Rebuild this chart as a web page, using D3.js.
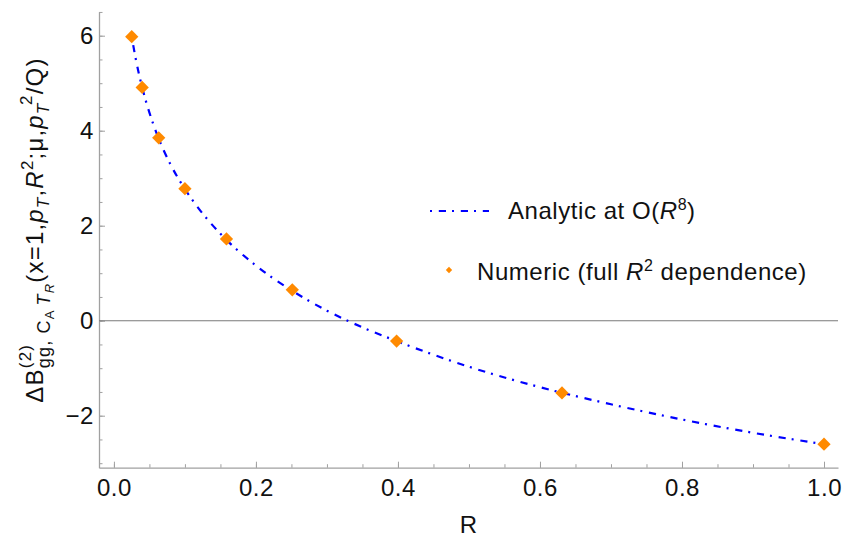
<!DOCTYPE html>
<html>
<head>
<meta charset="utf-8">
<script src="https://cdn.jsdelivr.net/npm/d3@7"></script>
<style>
  body { margin: 0; background: #fff; }
  svg { font-family: "Liberation Sans", Arial, sans-serif; }
</style>
</head>
<body>
<svg id="chart" width="848" height="541"></svg>
<script>
// numeric points (full R^2 dependence), R = 10^(-k/5)
const numericR = [0.0251, 0.0398, 0.0631, 0.1, 0.1585, 0.2512, 0.3981, 0.631, 1.0];
const numericB = [5.98, 4.91, 3.85, 2.78, 1.72, 0.65, -0.43, -1.52, -2.6];

// analytic curve at O(R^8)
const analyticR = [0.025, 0.03, 0.035, 0.04, 0.05, 0.06, 0.07, 0.08, 0.1, 0.12, 0.15,
  0.2, 0.25, 0.3, 0.35, 0.4, 0.5, 0.6, 0.7, 0.8, 0.9, 1.0];
const analyticB = [5.99, 5.57, 5.21, 4.9, 4.38, 3.95, 3.59, 3.28, 2.77, 2.35, 1.83,
  1.16, 0.64, 0.21, -0.14, -0.44, -0.97, -1.4, -1.76, -2.08, -2.36, -2.6];

const xMajor = [0, 0.2, 0.4, 0.6, 0.8, 1.0];
const xMinor = d3.range(0, 1.0001, 0.05);
const yMajor = [-2, 0, 2, 4, 6];
const yMinor = d3.range(-3, 6.5001, 0.5);

const svg = d3.select("#chart");

const x = d3.scaleLinear().domain([-0.021, 1.0197]).range([99, 838]);
const y = d3.scaleLinear().domain([-3.095, 6.505]).range([467.7, 11.7]);

const axisColor = "#a0a0a0";
const fontSize = 24;
const spacing = 0.55;

// minor ticks first, then major axes with labels
svg.append("g")
  .attr("transform", `translate(0, ${y.range()[0]})`)
  .call(d3.axisBottom(x).tickValues(xMinor).tickSize(-3.5).tickSizeOuter(0).tickFormat(""))
  .call(g => g.select(".domain").remove());

svg.append("g")
  .attr("transform", `translate(${x.range()[0]}, 0)`)
  .call(d3.axisLeft(y).tickValues(yMinor).tickSize(-3.5).tickSizeOuter(0).tickFormat(""))
  .call(g => g.select(".domain").remove());

svg.append("g")
  .attr("transform", `translate(0, ${y.range()[0]})`)
  .call(d3.axisBottom(x).tickValues(xMajor).tickSize(-6).tickSizeOuter(0)
    .tickPadding(11).tickFormat(d3.format(".1f")));

svg.append("g")
  .attr("transform", `translate(${x.range()[0]}, 0)`)
  .call(d3.axisLeft(y).tickValues(yMajor).tickSize(-6).tickSizeOuter(0)
    .tickPadding(5).tickFormat(d => d < 0 ? "\u2212" + Math.abs(d) : d));

svg.selectAll(".tick line").attr("stroke", axisColor).attr("stroke-width", 1);
svg.selectAll(".domain").attr("stroke", axisColor).attr("stroke-width", 1.3);
svg.selectAll(".tick text")
  .attr("font-size", fontSize)
  .attr("font-family", "Liberation Sans, Arial, sans-serif")
  .attr("letter-spacing", spacing)
  .attr("fill", "#111");

// zero line
svg.append("line")
  .attr("x1", x.range()[0]).attr("x2", x.range()[1])
  .attr("y1", y(0)).attr("y2", y(0))
  .attr("stroke", "#7a7a7a")
  .attr("stroke-width", 1.1);

const dash = "2,6.8,7.2,6";
const blue = "#0000ff";
const orange = "#ff8a00";

const line = d3.line()
  .x(d => x(d[0]))
  .y(d => y(d[1]))
  .curve(d3.curveMonotoneX);

svg.append("path")
  .datum(analyticR.map((r, i) => [r, analyticB[i]]))
  .attr("d", line)
  .attr("fill", "none")
  .attr("stroke", blue)
  .attr("stroke-width", 2.2)
  .attr("stroke-dasharray", dash);

const diamond = d3.symbol().type(d3.symbolSquare).size(88);
svg.selectAll("path.pt")
  .data(numericR.map((r, i) => [r, numericB[i]]))
  .join("path")
  .attr("class", "pt")
  .attr("d", diamond)
  .attr("transform", d => `translate(${x(d[0])}, ${y(d[1])}) rotate(45)`)
  .attr("fill", orange);

// x label
svg.append("text")
  .attr("x", (x.range()[0] + x.range()[1]) / 2)
  .attr("y", 533)
  .attr("text-anchor", "middle")
  .attr("font-size", fontSize)
  .attr("fill", "#111")
  .text("R");

// legend
const leg = svg.append("g")
  .attr("font-size", fontSize)
  .attr("letter-spacing", spacing)
  .attr("fill", "#111");
leg.append("line")
  .attr("x1", 430).attr("x2", 489)
  .attr("y1", 211).attr("y2", 211)
  .attr("stroke", blue)
  .attr("stroke-width", 2.2)
  .attr("stroke-dasharray", dash);
const t1 = leg.append("text").attr("x", 508).attr("y", 218.5);
t1.append("tspan").text("Analytic at O(");
t1.append("tspan").attr("font-style", "italic").text("R");
t1.append("tspan").attr("font-size", 16).attr("dy", -9).text("8");
t1.append("tspan").attr("dy", 9).text(")");

leg.append("path")
  .attr("d", d3.symbol().type(d3.symbolSquare).size(20)())
  .attr("transform", "translate(449, 270) rotate(45)")
  .attr("fill", orange);
const t2 = leg.append("text").attr("x", 477).attr("y", 280);
t2.append("tspan").text("Numeric (full ");
t2.append("tspan").attr("font-style", "italic").text("R");
t2.append("tspan").attr("font-size", 16).attr("dy", -9).text("2");
t2.append("tspan").attr("dy", 9).text(" dependence)");

// y label, built piece by piece so sub/superscripts can stack
const yl = svg.append("g").attr("transform", "translate(43, 230) rotate(-90)");
const inner = yl.append("g").attr("fill", "#111").attr("letter-spacing", 1.2);
let cursor = 0;

function piece(t, size, italic, shift) {
  const el = inner.append("text")
    .attr("x", cursor)
    .attr("y", shift)
    .attr("font-size", size)
    .attr("font-style", italic ? "italic" : "normal")
    .text(t);
  cursor += el.node().getComputedTextLength();
}

function run(list) {
  list.forEach(p => piece(p[0], p[1], p[2], p[3]));
}

function stack(sup, sub) {
  const start = cursor;
  run(sup);
  const end1 = cursor;
  cursor = start;
  run(sub);
  cursor = Math.max(end1, cursor);
}

run([["\u0394B", 24, false, 0]]);
stack(
  [["(2)", 17, false, -12]],
  [["gg, C", 18, false, 7], ["A", 13, false, 11], ["\u2009", 13, false, 11],
   ["T", 18, true, 7], ["R", 13, true, 11]]
);
run([["(x=1,", 24, false, 0], ["p", 24, true, 0], ["T", 17, true, 6],
     [",", 24, false, 0], ["R", 24, true, 0], ["2", 17, false, -10],
     [";\u03bc,", 24, false, 0], ["p", 24, true, 0]]);
stack([["\u2009\u20092", 17, false, -11]], [["T", 17, true, 6]]);
run([["/Q)", 24, false, 0]]);

inner.attr("transform", `translate(${-cursor / 2}, 0)`);
</script>
</body>
</html>
